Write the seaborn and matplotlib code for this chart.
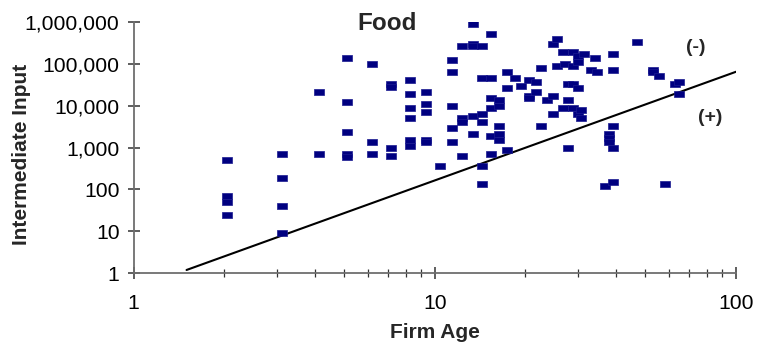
import numpy as np
import pandas as pd
import matplotlib
matplotlib.use("Agg")
import matplotlib.pyplot as plt
import matplotlib.ticker as mticker
import seaborn as sns

# Firm age groups and the intermediate-input values observed at each age
age_groups = [2.05, 3.1, 4.13, 5.13, 6.17, 7.18, 8.26, 9.33, 10.4, 11.4,
              12.3, 13.4, 14.3, 15.4, 16.4, 17.4, 18.5, 19.4, 20.6, 21.6,
              22.6, 23.6, 24.7, 25.5, 26.7, 27.1, 27.6, 28.7, 29.9, 30.6,
              31.3, 33.0, 34.0, 34.6, 36.8, 37.9, 39.2, 47.0, 53.1, 55.6,
              58.2, 62.9, 64.8]
inputs_by_age = [
    [512, 71, 51, 24],
    [710, 190, 41, 9],
    [21400, 710],
    [139000, 12400, 2380, 710, 594],
    [100000, 1380, 710],
    [33000, 27700, 990, 640],
    [41400, 19200, 8900, 5140, 1535, 1100],
    [21400, 11100, 7140, 1535, 1380],
    [370],
    [124000, 64200, 9940, 2970, 1380],
    [268000, 5140, 4130, 640],
    [897000, 300000, 268000, 5740, 2140],
    [268000, 46200, 6400, 4130, 368, 137],
    [518000, 46200, 15400, 8900, 1913, 711],
    [13800, 9940, 3310, 2140, 1535],
    [64000, 26700, 887],
    [46200],
    [29800],
    [41400, 17000, 15400],
    [37000, 21400],
    [80000, 3310],
    [13800],
    [300000, 17000, 6400],
    [387000, 89400],
    [193000, 8900],
    [100000],
    [33000, 13800, 990],
    [193000, 89400, 33000, 8900],
    [155000, 111000, 26700, 6400],
    [7980, 5140],
    [173000],
    [71800],
    [139000],
    [64000],
    [123],
    [2140, 1713, 1376],
    [173000, 71800, 3310, 990, 153],
    [333000],
    [71800, 64000],
    [51500],
    [137],
    [33000],
    [37000, 19200],
]

# Boundary line separating the (-) and (+) regions
boundary_age = [1.5, 100]
boundary_input = [1.2, 64000]

x_ticks = [1, 10, 100]
y_ticks = [1, 10, 100, 1000, 10000, 100000, 1000000]

firms = pd.DataFrame(
    [(a, v) for a, vals in zip(age_groups, inputs_by_age) for v in vals],
    columns=["Firm Age", "Intermediate Input"],
)
boundary = pd.DataFrame({"Firm Age": boundary_age,
                         "Intermediate Input": boundary_input})

sns.set_theme(style="white")
plt.rcParams["font.family"] = ["Liberation Sans", "DejaVu Sans"]

W, H = 761, 353
fig = plt.figure(figsize=(W / 100, H / 100), dpi=100)
ax = fig.add_axes([133.5 / W, 1 - 273.3 / H, (736 - 133.5) / W, (273.3 - 21.7) / H])

ax.set_xscale("log")
ax.set_yscale("log")

# short horizontal dash marker
dash = [(-1, -0.6), (1, -0.6), (1, 0.6), (-1, 0.6), (-1, -0.6)]
sns.scatterplot(data=firms, x="Firm Age", y="Intermediate Input", ax=ax,
                marker=dash, s=44, color="#000080", edgecolor="#1a1a90",
                linewidth=0.5, zorder=3, legend=False)
sns.lineplot(data=boundary, x="Firm Age", y="Intermediate Input", ax=ax,
             color="black", linewidth=1.5, zorder=2)

ax.set_xlim(1, 100)
ax.set_ylim(1, 1000000)

ax.xaxis.set_major_locator(mticker.FixedLocator(x_ticks))
ax.xaxis.set_minor_locator(mticker.LogLocator(base=10, subs=np.arange(2, 10)))
ax.xaxis.set_minor_formatter(mticker.NullFormatter())
ax.xaxis.set_major_formatter(mticker.FuncFormatter(lambda v, p: f"{v:,.0f}"))
ax.yaxis.set_major_locator(mticker.FixedLocator(y_ticks))
ax.yaxis.set_minor_locator(mticker.NullLocator())
ax.yaxis.set_major_formatter(mticker.FuncFormatter(lambda v, p: f"{v:,.0f}"))

for side in ("top", "right"):
    ax.spines[side].set_visible(False)
for side in ("left", "bottom"):
    ax.spines[side].set_color("#6e6e6e")
    ax.spines[side].set_linewidth(1.3)

ax.tick_params(axis="both", which="major", direction="inout", length=8,
               width=1.1, color="#333333", labelsize=15.2, labelcolor="black")
ax.tick_params(axis="x", which="minor", direction="inout", length=6,
               width=0.9, color="#333333")
ax.tick_params(axis="x", which="major", pad=11)
ax.tick_params(axis="y", which="major", pad=6)
ax.tick_params(axis="both", which="both", bottom=True, left=True)

ax.set_xlabel("Firm Age", fontsize=15, fontweight="bold")
ax.xaxis.set_label_coords(0.5, -(333 - 273.3) / 251.6)
ax.xaxis.label.set_va("center")
ax.set_ylabel("Intermediate Input", fontsize=15, fontweight="bold")
ax.yaxis.set_label_coords((22 - 133.5) / 602.5, (273.3 - 154) / 251.6)
ax.yaxis.label.set_va("center")
ax.grid(False)

fig.text(387.5 / W, 1 - 24 / H, "Food", fontsize=17.5, fontweight="bold",
         ha="center", va="center")
fig.text(696 / W, 1 - 47 / H, "(-)", fontsize=14, fontweight="bold",
         ha="center", va="center")
fig.text(710 / W, 1 - 117 / H, "(+)", fontsize=14, fontweight="bold",
         ha="center", va="center")

fig.savefig("out.png", dpi=100, facecolor="white")
